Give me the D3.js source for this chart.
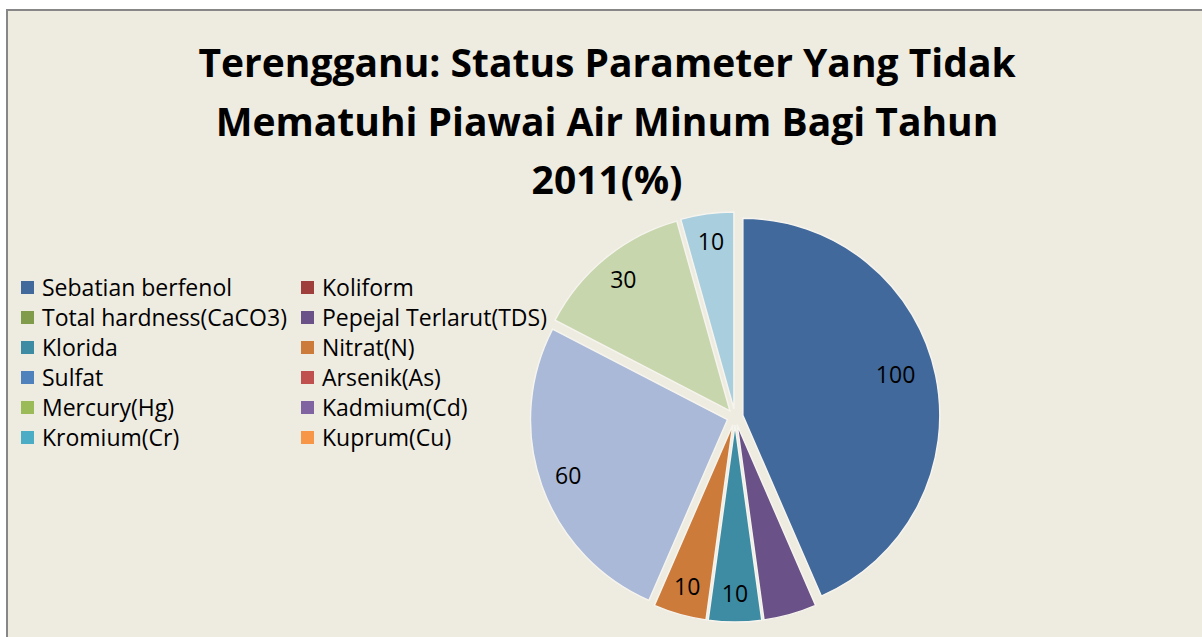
<!DOCTYPE html>
<meta charset="utf-8">

<head>
  <script src="https://d3js.org/d3.v7.min.js"></script>
</head>
<style>
  body {
    margin: 0;
    background: #fff;
  }

  text {
    font-family: "Open Sans", Lato, sans-serif;
  }
</style>

<body>
  <script>
    // data
    var titleLines = ["Terengganu: Status Parameter Yang Tidak",
      "Mematuhi Piawai Air Minum Bagi Tahun", "2011(%)"];
    var categories = ["Sebatian berfenol", "Koliform", "Total hardness(CaCO3)",
      "Pepejal Terlarut(TDS)", "Klorida", "Nitrat(N)", "Sulfat", "Arsenik(As)",
      "Mercury(Hg)", "Kadmium(Cd)", "Kromium(Cr)", "Kuprum(Cu)"];
    var values = [100, 0, 0, 10, 10, 10, 60, 0, 30, 0, 10, 0];
    var hiddenLabels = ["Pepejal Terlarut(TDS)"];

    // colours: legend keys and pie slices (second round of slices is tinted)
    var legendColors = ["#41699b", "#9e3f3c", "#809b4a", "#6a5187", "#3d8ca4", "#cc7b3a",
      "#4f81bd", "#c0504d", "#9bbb59", "#8064a2", "#4bacc6", "#f79646"];
    var sliceColors = ["#41699b", "#9e3f3c", "#809b4a", "#6a5187", "#3d8ca4", "#cc7b3a",
      "#aab9d7", "#d9a9a8", "#c7d6ad", "#bfb1d1", "#a9cedd", "#fbcaa2"];

    var W = 1202, H = 637;
    var svg = d3.select("body").append("svg")
      .attr("width", W)
      .attr("height", H);

    // chart area
    svg.append("rect")
      .attr("x", 7).attr("y", 10)
      .attr("width", W + 20).attr("height", H + 20)
      .attr("fill", "#eeebe0")
      .attr("stroke", "#878787")
      .attr("stroke-width", 2);

    // title
    svg.append("g").selectAll("text")
      .data(titleLines)
      .enter().append("text")
      .attr("x", 607)
      .attr("y", function (d, i) { return 77 + i * 58.5; })
      .attr("text-anchor", "middle")
      .attr("font-size", 39)
      .attr("font-weight", "bold")
      .attr("fill", "#000")
      .text(function (d) { return d; });

    // pie
    var cx = 735, cy = 417, r = 197, explode = 8;
    var pie = d3.pie().sort(null).value(function (d) { return d; });
    var arcs = pie(values);
    var arc = d3.arc().innerRadius(0).outerRadius(r);

    function offset(d, dist) {
      var a = (d.startAngle + d.endAngle) / 2;
      return [Math.sin(a) * dist, -Math.cos(a) * dist];
    }

    var g = svg.append("g").attr("transform", "translate(" + cx + "," + cy + ")");

    g.selectAll("path")
      .data(arcs.filter(function (d) { return d.value > 0; }))
      .enter().append("path")
      .attr("transform", function (d) {
        return "translate(" + offset(d, explode) + ")";
      })
      .attr("d", arc)
      .attr("fill", function (d) { return sliceColors[d.index]; })
      .attr("stroke", "#f6f4ee")
      .attr("stroke-width", 1.5);

    // the biggest slice gets its label a bit further in
    g.selectAll("text")
      .data(arcs.filter(function (d) {
        return d.value > 0 && hiddenLabels.indexOf(categories[d.index]) < 0;
      }))
      .enter().append("text")
      .attr("transform", function (d) {
        var big = d.endAngle - d.startAngle > Math.PI * 2 / 3;
        var p = offset(d, big ? 164 : 177);
        if (big) p[1] -= 9;
        return "translate(" + p + ")";
      })
      .attr("text-anchor", "middle")
      .attr("dy", "0.35em")
      .attr("font-size", 23)
      .attr("fill", "#000")
      .text(function (d) { return d.value; });

    // legend, two columns, row by row
    var legend = svg.append("g").selectAll("g")
      .data(categories)
      .enter().append("g")
      .attr("transform", function (d, i) {
        return "translate(" + (i % 2 === 0 ? 21 : 301) + "," + (288 + Math.floor(i / 2) * 30) + ")";
      });

    legend.append("rect")
      .attr("x", 0).attr("y", -7)
      .attr("width", 13).attr("height", 13)
      .attr("fill", function (d, i) { return legendColors[i]; });

    legend.append("text")
      .attr("x", 21)
      .attr("dy", "0.35em")
      .attr("font-size", 23)
      .attr("fill", "#000")
      .text(function (d) { return d; });
  </script>
</body>
